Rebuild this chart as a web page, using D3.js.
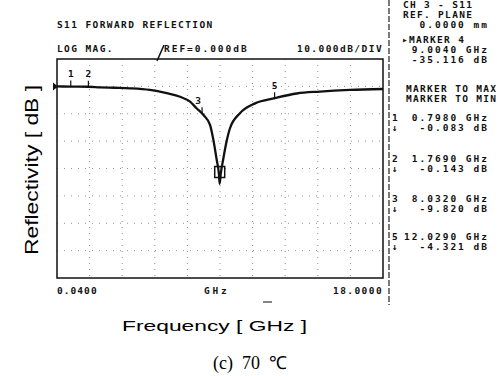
<!DOCTYPE html>
<html>
<head>
<meta charset="utf-8">
<script src="https://cdn.jsdelivr.net/npm/d3@7"></script>
<style>
  body { margin: 0; background: #fff; }
  .inst { font-family: "DejaVu Sans Mono", monospace; font-weight: bold; font-size: 9.5px; letter-spacing: 1.4px; fill: #111; }
  .panel { letter-spacing: 2.0px; }
  .panel .head { letter-spacing: 1.3px; }
</style>
</head>
<body>
<svg id="chart" width="499" height="376"></svg>
<script>
// trace
const freqGHz = [0.04, 0.8, 1.77, 2.41, 3.2, 4.06, 5.16, 6.08, 6.82, 7.37, 7.73, 8.1, 8.47, 8.64, 8.84, 8.96, 9.0, 9.06, 9.19, 9.39, 9.57, 10.12, 10.95, 12.05, 13.25, 14.53, 16.18, 18.0];
const reflDb = [0.0, -0.08, -0.14, -0.33, -0.5, -0.7, -1.3, -2.5, -3.8, -5.6, -8.0, -10.4, -14.1, -19.0, -26.9, -32.0, -35.6, -32.0, -26.9, -19.9, -15.3, -9.8, -6.2, -4.3, -2.6, -1.9, -1.3, -0.95];

// numbered markers
const markerIds = ['1', '2', '3', '5'];
const markerFreq = [0.798, 1.769, 8.032, 12.029];
const markerDb = [-0.083, -0.143, -9.82, -4.321];
const activeMarkerFreq = 9.004;
const activeMarkerDb = -35.116;

// side panel readout
const panelHead = ['CH 3 - S11', 'REF. PLANE', '\u25B8MARKER 4', 'MARKER TO MAX', 'MARKER TO MIN'];
const panelValues = ['0.0000 mm', '9.0040 GHz', '-35.116 dB'];
const readoutFreq = ['0.7980 GHz', '1.7690 GHz', '8.0320 GHz', '12.0290 GHz'];
const readoutDb = ['-0.083 dB', '-0.143 dB', '-9.820 dB', '-4.321 dB'];

const svg = d3.select('#chart');

// plot frame
const plotLeft = 57, plotRight = 383, plotTop = 59, plotBottom = 278;

const xScale = d3.scaleLinear().domain([0.04, 18]).range([plotLeft, plotRight]);
const yScale = d3.scaleLinear().domain([-70, 10]).range([plotBottom, plotTop]);

// grid, 10 x 8 divisions
const xDiv = d3.scaleLinear().domain([0, 10]).range([plotLeft, plotRight]);
svg.append('g')
    .selectAll('line')
    .data(d3.range(1, 10))
    .enter()
    .append('line')
    .attr('x1', (d) => xDiv(d)).attr('x2', (d) => xDiv(d))
    .attr('y1', plotTop).attr('y2', plotBottom)
    .attr('stroke', '#777')
    .attr('stroke-width', 0.8)
    .attr('stroke-dasharray', '1,5');

svg.append('g')
    .selectAll('line')
    .data(d3.range(-60, 10, 10))
    .enter()
    .append('line')
    .attr('x1', plotLeft).attr('x2', plotRight)
    .attr('y1', (d) => yScale(d)).attr('y2', (d) => yScale(d))
    .attr('stroke', '#777')
    .attr('stroke-width', 0.8)
    .attr('stroke-dasharray', '1,6');

svg.append('rect')
    .attr('x', plotLeft).attr('y', plotTop)
    .attr('width', plotRight - plotLeft).attr('height', plotBottom - plotTop)
    .attr('fill', 'none')
    .attr('stroke', '#111')
    .attr('stroke-width', 1.5);

// reference arrow on the left edge
const refY = yScale(0);
svg.append('path')
    .attr('d', `M${plotLeft - 4},${refY - 4} L${plotLeft + 1},${refY} L${plotLeft - 4},${refY + 4} Z`)
    .attr('fill', '#111');

// trace
const trace = d3.line()
    .x((d, i) => xScale(freqGHz[i]))
    .y((d) => yScale(d))
    .curve(d3.curveMonotoneX);

svg.append('path')
    .attr('d', trace(reflDb))
    .attr('fill', 'none')
    .attr('stroke', '#111')
    .attr('stroke-width', 2.3);

// marker ticks and labels
const markers = markerIds.map((id, i) => ({id: id, f: markerFreq[i], db: markerDb[i]}));
const labelOffset = {'1': [0, -10], '2': [0, -10], '3': [-4, -9], '5': [0, -9]};

svg.append('g')
    .selectAll('line')
    .data(markers)
    .enter()
    .append('line')
    .attr('x1', (d) => xScale(d.f)).attr('x2', (d) => xScale(d.f))
    .attr('y1', (d) => yScale(d.db) - 6).attr('y2', (d) => yScale(d.db))
    .attr('stroke', '#111')
    .attr('stroke-width', 1.2);

svg.append('g')
    .selectAll('text')
    .data(markers)
    .enter()
    .append('text')
    .attr('class', 'inst')
    .style('letter-spacing', '0px')
    .attr('text-anchor', 'middle')
    .attr('x', (d) => xScale(d.f) + labelOffset[d.id][0])
    .attr('y', (d) => yScale(d.db) + labelOffset[d.id][1])
    .text((d) => d.id);

// active marker box
svg.append('rect')
    .attr('x', xScale(activeMarkerFreq) - 5)
    .attr('y', yScale(activeMarkerDb) - 16)
    .attr('width', 10)
    .attr('height', 11)
    .attr('fill', 'none')
    .attr('stroke', '#111')
    .attr('stroke-width', 1.5);

// header text
svg.append('text').attr('class', 'inst').attr('x', plotLeft).attr('y', 28).text('S11 FORWARD REFLECTION');
svg.append('text').attr('class', 'inst').attr('x', plotLeft).attr('y', 52).text('LOG MAG.');
svg.append('text').attr('class', 'inst').attr('x', 164).attr('y', 52)
    .attr('textLength', 84).text('REF=0.000dB');
svg.append('path')
    .attr('d', 'M157,61 L164,45')
    .attr('stroke', '#111')
    .attr('stroke-width', 1.5);
svg.append('text').attr('class', 'inst').attr('x', 297).attr('y', 52)
    .attr('textLength', 86).text('10.000dB/DIV');

// start / stop labels
svg.append('text').attr('class', 'inst').attr('x', plotLeft).attr('y', 294)
    .attr('textLength', 41).text('0.0400');
svg.append('text').attr('class', 'inst').attr('x', 204).attr('y', 294)
    .attr('textLength', 24).text('GHz');
svg.append('text').attr('class', 'inst').attr('x', 333).attr('y', 294)
    .attr('textLength', 50).text('18.0000');
svg.append('line')
    .attr('x1', 263).attr('x2', 272).attr('y1', 302).attr('y2', 302)
    .attr('stroke', '#333').attr('stroke-width', 1.2);

// separator for the side panel
svg.append('line')
    .attr('x1', 389).attr('x2', 389).attr('y1', 0).attr('y2', 305)
    .attr('stroke', '#222')
    .attr('stroke-width', 1.2)
    .attr('stroke-dasharray', '6,2');

const panel = svg.append('g').attr('class', 'inst panel');
const headPos = [[403, 8], [403, 18], [402, 43], [406, 92], [406, 102]];
panel.selectAll('text.head')
    .data(panelHead)
    .enter()
    .append('text')
    .attr('class', 'head')
    .attr('x', (d, i) => headPos[i][0])
    .attr('y', (d, i) => headPos[i][1])
    .text((d) => d);

const valueY = [28, 53, 63];
panel.selectAll('text.val')
    .data(panelValues)
    .enter()
    .append('text')
    .attr('class', 'val')
    .attr('text-anchor', 'end')
    .attr('x', 489)
    .attr('y', (d, i) => valueY[i])
    .text((d) => d);

const readoutY = [121, 162, 202, 240];
const readouts = markerIds.map((id, i) => ({id: id, f: readoutFreq[i], db: readoutDb[i], y: readoutY[i]}));

const rows = panel.selectAll('g.row')
    .data(readouts)
    .enter()
    .append('g')
    .attr('class', 'row');
rows.append('text').attr('x', 392).attr('y', (d) => d.y).text((d) => d.id);
rows.append('text').attr('x', 392).attr('y', (d) => d.y + 10).text('\u2193');
rows.append('text').attr('text-anchor', 'end').attr('x', 489).attr('y', (d) => d.y).text((d) => d.f);
rows.append('text').attr('text-anchor', 'end').attr('x', 489).attr('y', (d) => d.y + 10).text((d) => d.db);

// axis titles
svg.append('text')
    .attr('x', 122).attr('y', 331)
    .attr('textLength', 185)
    .attr('lengthAdjust', 'spacingAndGlyphs')
    .style('font-family', '"Liberation Sans", Arial, sans-serif')
    .style('font-size', '15.5px')
    .text('Frequency [ GHz ]');

svg.append('text')
    .attr('transform', 'translate(38, 255) rotate(-90)')
    .attr('textLength', 170)
    .attr('lengthAdjust', 'spacingAndGlyphs')
    .style('font-family', '"Liberation Sans", Arial, sans-serif')
    .style('font-size', '18px')
    .text('Reflectivity [ dB ]');

svg.append('text')
    .attr('x', 213).attr('y', 369)
    .attr('xml:space', 'preserve')
    .style('white-space', 'pre')
    .style('font-family', '"Liberation Serif", "Times New Roman", serif')
    .style('font-size', '18px')
    .text('(c)  70  \u2103');
</script>
</body>
</html>
